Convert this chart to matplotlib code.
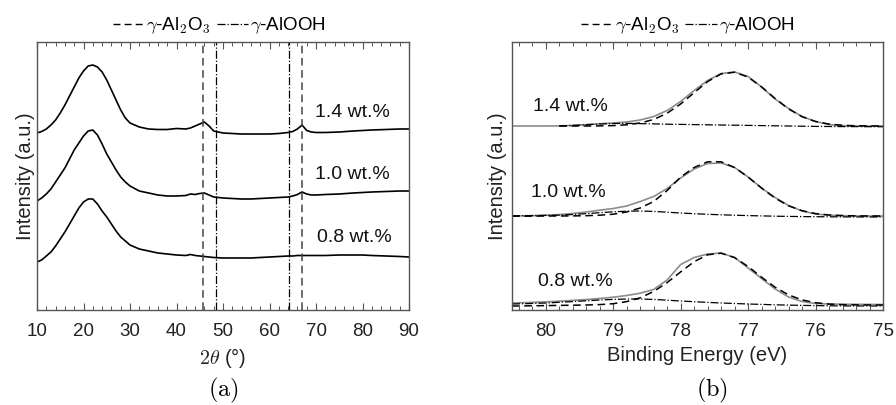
import numpy as np
import matplotlib
matplotlib.use("Agg")
import matplotlib.pyplot as plt
from matplotlib.lines import Line2D

plt.rcParams['font.family'] = ['Liberation Sans', 'DejaVu Sans']
plt.rcParams['mathtext.fontset'] = 'cm'

# ---------------- data: XRD (a) ----------------
two_theta = [10, 11, 12, 13, 14, 15, 16, 17, 18, 19, 20, 21, 22, 23, 24, 25, 26, 27, 28, 29, 30,
             32, 34, 36, 38, 40, 42, 43, 44, 45, 46, 47, 48, 50, 52, 54, 56, 58, 60, 62, 64,
             65, 66, 67, 68, 69, 70, 72, 75, 78, 80, 82, 85, 88, 90]
xrd_14 = [177, 178.5, 181, 185, 190, 197, 205, 214, 223, 232, 239, 244, 245, 243, 238, 230, 220, 210, 200, 192, 187,
          183, 181, 180.5, 180.5, 181.5, 181, 182, 184, 186, 188, 184, 179, 177, 176.5, 176, 176, 176, 176, 176.5, 177.5,
          178.5, 181, 185, 179.5, 178, 177.5, 177.5, 178, 179, 179.5, 180, 180.5, 181, 181]
xrd_10 = [109, 112, 116, 121, 128, 135, 142, 151, 160, 167, 174, 179, 180, 175, 166, 156, 148, 140, 133, 128, 124,
          119, 117, 115, 114, 114, 114.5, 116, 115.5, 116.5, 117, 115, 113, 112, 111.5, 111, 111, 111.5, 112, 112.5, 113,
          114, 115.5, 118, 116, 115, 115, 115.5, 116, 117, 117.5, 118, 118.5, 119, 119]
xrd_08 = [48, 50, 54, 58, 64, 71, 78, 86, 94, 102, 108, 111, 111, 106, 99, 93, 86, 79, 73, 69, 65,
          61, 59, 57, 56, 55, 54.5, 55.5, 54.5, 54, 53.5, 53, 52.5, 52, 52, 52, 52, 52.5, 53, 53.5, 54,
          54, 54.5, 54.5, 54.5, 54.5, 54.5, 54.5, 55, 55, 55, 54.5, 54, 53.5, 53]
al2o3_lines = [45.8, 67.0]
alooh_lines = [48.5, 64.2]
xrd_labels = ['1.4 wt.%', '1.0 wt.%', '0.8 wt.%']
xrd_label_pos = [(69.8, 197), (69.8, 135), (70.2, 72)]

# ---------------- data: XPS (b) ----------------
energy = [80.5, 80.2, 80.0, 79.8, 79.6, 79.4, 79.2, 79.0, 78.8, 78.6, 78.4, 78.2, 78.0,
          77.8, 77.6, 77.4, 77.2, 77.0, 76.8, 76.6, 76.4, 76.2, 76.0, 75.8, 75.6, 75.4, 75.2, 75.0]
nan = float('nan')
meas_14 = [184, 184, 184, 184.1, 184.6, 185.4, 186.2, 187.0, 188.0, 190.0, 193.5, 199.5, 208.5,
           219.5, 229.5, 236.5, 238.0, 233.5, 223.0, 211.0, 201.5, 193.5, 188.5, 185.5, 184.3, 184.0, 184.0, 184.0]
fit1_14 = [nan, nan, nan, 184.0, 184.0, 184.0, 184.1, 184.4, 185.2, 187.0, 190.5, 196.8, 206.0,
           217.3, 228.4, 236.1, 237.8, 232.9, 223.1, 211.5, 201.1, 193.3, 188.5, 185.9, 184.7, 184.2, 184.1, 184.0]
fit2_14 = [nan, nan, nan, 184.0, 184.6, 185.3, 186.0, 186.5, 186.6, 186.4, 186.1, 185.8, 185.6,
           185.4, 185.2, 185.0, 184.8, 184.6, 184.4, 184.2, 184.0, 183.8, 183.6, 183.5, 183.4, 183.4, 183.3, 183.3]
meas_10 = [94.0, 94.3, 94.8, 95.5, 96.5, 98.0, 99.8, 101.5, 104.0, 108.5, 113.5, 121.5, 132.0,
           141.0, 146.5, 147.0, 142.5, 133.0, 122.0, 112.5, 104.5, 99.0, 96.0, 94.8, 94.3, 94.1, 94.0, 94.0]
fit1_10 = [93.8, 93.9, 94.0, 94.0, 94.1, 94.3, 94.8, 95.8, 98.0, 102.0, 108.5, 119.5, 132.9,
           142.5, 148.2, 148.2, 142.5, 132.9, 121.9, 111.9, 104.2, 99.3, 96.4, 95.0, 94.4, 94.1, 94.0, 94.0]
fit2_10 = [94.2, 94.4, 94.6, 94.8, 95.5, 96.4, 97.3, 98.2, 98.8, 99.0, 98.6, 97.8, 97.0,
           96.3, 95.7, 95.2, 94.8, 94.4, 94.1, 93.8, 93.6, 93.4, 93.3, 93.2, 93.1, 93.1, 93.0, 93.0]
meas_08 = [7.0, 7.6, 8.2, 8.8, 9.6, 10.5, 11.5, 12.8, 14.5, 16.8, 20.5, 30.0, 45.5,
           52.5, 56.0, 57.0, 52.5, 42.0, 31.5, 21.0, 13.0, 8.5, 6.5, 6.0, 5.8, 5.7, 5.6, 5.5]
fit1_08 = [4.0, 4.2, 4.4, 4.6, 4.8, 5.0, 5.4, 6.3, 8.4, 12.2, 18.5, 27.4, 38.1,
           48.3, 55.2, 56.8, 52.4, 43.5, 32.8, 22.8, 15.1, 10.1, 7.3, 5.9, 5.3, 5.1, 5.0, 5.0]
fit2_08 = [6.0, 6.5, 7.0, 7.7, 8.4, 9.2, 10.0, 10.6, 11.0, 11.0, 10.6, 9.8, 9.0,
           8.3, 7.6, 7.0, 6.5, 6.0, 5.6, 5.2, 4.9, 4.6, 4.4, 4.2, 4.1, 4.0, 4.0, 4.0]
xps_labels = ['1.4 wt.%', '1.0 wt.%', '0.8 wt.%']
xps_label_pos = [(80.19, 203), (80.22, 117), (80.12, 28)]

legend_labels = [r'$\gamma$-Al$_\mathsf{2}$O$_\mathsf{3}$', r'$\gamma$-AlOOH']

# ---------------- figure ----------------
fig = plt.figure(figsize=(8.96, 4.05), dpi=100)
axA = fig.add_axes([37/896, 1-310/405, 372/896, 268/405])
axB = fig.add_axes([512/896, 1-310/405, 371/896, 268/405])

spine_col = '#555555'
DASH = (0, (5, 3))
FS = 13.5

for ax in (axA, axB):
    for s in ax.spines.values():
        s.set_color(spine_col)
        s.set_linewidth(1.0)
    ax.tick_params(axis='x', which='both', direction='in', top=True, bottom=True,
                   color=spine_col, labelsize=FS, pad=9.5, labelcolor='#222222')
    ax.tick_params(axis='x', which='major', length=5, width=0.8)
    ax.tick_params(axis='x', which='minor', length=3, width=0.7)
    ax.set_yticks([])
    ax.set_ylim(0, 268)
    ax.set_ylabel('Intensity (a.u.)', fontsize=14.5, color='#222222')

# (a)
for y in (xrd_14, xrd_10, xrd_08):
    axA.plot(two_theta, y, color='black', lw=1.2)
for xv in al2o3_lines:
    axA.axvline(xv, color='#444444', lw=1.1, ls=DASH)
for xv in alooh_lines:
    axA.axvline(xv, color='black', lw=0.9, ls='-.')
for lab, (xx, yy) in zip(xrd_labels, xrd_label_pos):
    axA.text(xx, yy, lab, fontsize=14, va='center', ha='left', color='#111111')
axA.set_xlim(10, 90)
axA.set_xticks(np.arange(10, 91, 10))
axA.set_xticks(np.arange(10, 91, 2), minor=True)
axA.set_xlabel(r'$2\theta$ (°)', fontsize=14.5, labelpad=4, color='#222222')
axA.yaxis.set_label_coords(-0.006, 0.5)

# (b)
for m, f1, f2 in ((meas_14, fit1_14, fit2_14), (meas_10, fit1_10, fit2_10), (meas_08, fit1_08, fit2_08)):
    axB.plot(energy, m, color='#8c8c8c', lw=1.2)
    axB.plot(energy, f1, color='black', lw=1.1, ls=DASH)
    axB.plot(energy, f2, color='black', lw=0.9, ls='-.')
for lab, (xx, yy) in zip(xps_labels, xps_label_pos):
    axB.text(xx, yy, lab, fontsize=14, va='center', ha='left', color='#111111')
axB.set_xlim(80.5, 75)
axB.set_xticks(np.arange(80, 74.9, -1))
axB.set_xticks(np.round(np.arange(80.4, 74.9, -0.2), 1), minor=True)
axB.set_xlabel('Binding Energy (eV)', fontsize=14.5, labelpad=4, color='#222222')
axB.yaxis.set_label_coords(-0.014, 0.5)

# legends
handles = [Line2D([], [], color='black', lw=1.0, ls=DASH),
           Line2D([], [], color='black', lw=0.9, ls='-.')]
for ax, xa in ((axA, 0.49), (axB, 0.475)):
    ax.legend(handles, legend_labels, loc='lower center', bbox_to_anchor=(xa, 1.0),
              ncol=2, frameon=False, fontsize=FS, handlelength=1.7, handletextpad=0.1,
              columnspacing=0.3, borderaxespad=0.2, borderpad=0.1)

fig.text(223/896, 1-390/405, r'$\mathrm{(a)}$', fontsize=17.5, ha='center', va='center')
fig.text(712/896, 1-390/405, r'$\mathrm{(b)}$', fontsize=17.5, ha='center', va='center')

fig.savefig('out.png', dpi=100)
